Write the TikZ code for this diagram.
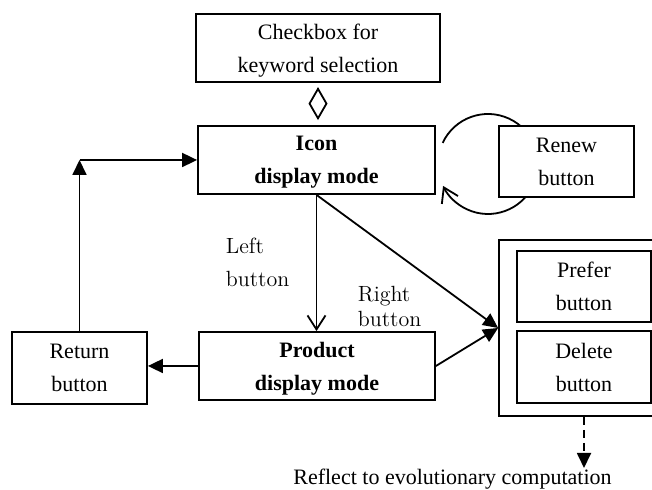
\documentclass[tikz,border=0pt]{standalone}
\usepackage{fontspec}
\newfontfamily\tnr{Liberation Serif}
\usetikzlibrary{arrows.meta}

\begin{document}
\begin{tikzpicture}[x=0.5pt,y=0.5pt,line width=0.9pt,
    box/.style={draw,fill=white,inner sep=0pt,align=center,text depth=0pt,
      font=\tnr\fontsize{11}{16.5}\selectfont},
    lbl/.style={inner sep=0pt,align=left,anchor=north west},
    fill tip/.style={-{Triangle[length=7.5pt,width=7pt]}},
    open tip/.style={-{Straight Barb[length=7pt,width=9pt]}}]
  \useasboundingbox (0,0) rectangle (652,490);
  \node[box,minimum width=122pt,minimum height=34pt] (check) at (318,442) {Checkbox for\\keyword selection};
  \node[box,minimum width=118.5pt,minimum height=34pt] (icon) at (316.5,330) {\bfseries Icon\\\bfseries display mode};
  \node[box,minimum width=118pt,minimum height=34pt] (product) at (317,124) {\bfseries Product\\\bfseries display mode};
  \node[box,minimum width=67.5pt,minimum height=36pt] (return) at (79.5,122) {Return\\button};
  \node[box,minimum width=85pt,minimum height=88pt] (panel) at (584,162) {};
  \node[box,minimum width=67pt,minimum height=35.5pt] (prefer) at (584,203.5) {Prefer\\button};
  \node[box,minimum width=67pt,minimum height=36pt] (delete) at (584,123) {Delete\\button};
  \coordinate (loopc) at (488,326);
  \draw[open tip] (loopc) ++(155:25pt) arc[start angle=155,end angle=-154,radius=25pt];
  \node[box,minimum width=67.5pt,minimum height=35.5pt] (renew) at (566.5,328.5) {Renew\\button};
  \node[lbl,font=\fontsize{11}{16.5}\selectfont] (left) at (225,253.3) {Left\\button};
  \node[lbl,font=\fontsize{11}{12.5}\selectfont] (right) at (357,204.3) {Right\\button};
  \node[inner sep=0pt,anchor=base,font=\tnr\fontsize{11}{13}\selectfont] (reflect) at (452.5,5) {Reflect to evolutionary computation};
  \coordinate (turn) at (return.north |- icon.west);
  \coordinate (target) at (584,22);

  \draw[-{Diamond[open,length=16.5pt,width=9.5pt]},shorten <=2.5pt,shorten >=2.5pt]
    (check.south) -- (check.south |- icon.north);
  \draw[open tip] (icon.south) -- (icon.south |- product.north);
  \draw[fill tip] (icon.south) -- (panel.west);
  \draw[fill tip] (product.east) -- (panel.west);
  \draw[fill tip] (product.west) -- (product.west -| return.east);
  \draw[fill tip] (return.north) -- (turn);
  \draw[fill tip] (turn) -- (icon.west);
  \draw[fill tip,dash pattern=on 4pt off 2.5pt] (panel.south) -- (target);
\end{tikzpicture}
\end{document}
